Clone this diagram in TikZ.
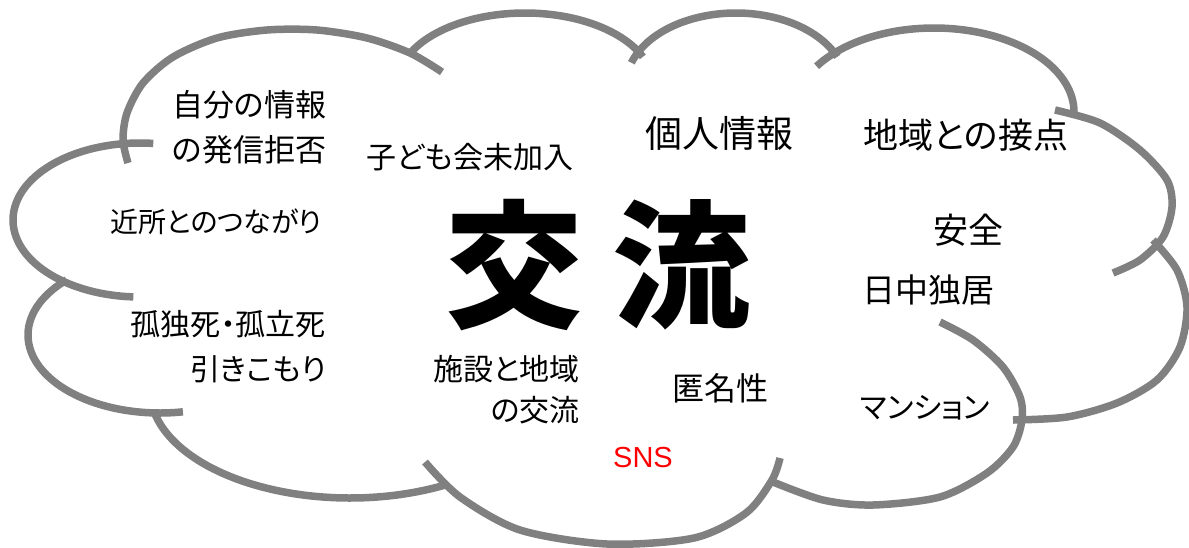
\documentclass[tikz,border=0pt]{standalone}
\usepackage{fontspec}
\setmainfont{Liberation Sans}
\newfontfamily\jpfont{Noto Sans CJK JP}[RawFeature=+palt]
\definecolor{cloudgray}{RGB}{128,128,128}
\definecolor{snsred}{RGB}{255,0,0}
\begin{document}
\begin{tikzpicture}[x=1pt,y=-1pt,
  cl/.style={draw=cloudgray,line width=7.5pt},
  jp/.style={inner sep=0pt,text=black}]
\useasboundingbox (0,0) rectangle (1189,547);
% cloud outline, lobe by lobe
\draw[cl] plot[smooth] coordinates {(128,163) (123,140) (127,113) (143,83) (173,57) (217,38) (267,30) (317,30) (367,38) (410,53) (442,72)};
\draw[cl] plot[domain=207:337,samples=60,smooth] ({525+128*cos(\x)},{85+72*sin(\x)});
\draw[cl] plot[domain=198:337,samples=60,smooth] ({736+110*cos(\x)},{85+72*sin(\x)});
\draw[cl] plot[domain=213:360,samples=60,smooth] ({934+140*cos(\x)},{112+84*sin(\x)});
\draw[cl] plot[smooth] coordinates {(1055,110) (1100,123) (1140,150) (1167,180) (1172,207) (1163,237) (1140,260) (1113,273)};
\draw[cl] plot[smooth] coordinates {(1153,240) (1177,270) (1187,307) (1180,347) (1157,380) (1117,403) (1067,417) (1013,420)};
\draw[cl] plot[smooth] coordinates {(940,322) (973,340) (1003,367) (1020,397) (1022,420) (1013,447) (987,473) (940,497) (873,505) (823,500) (773,482)};
\draw[cl] plot[smooth] coordinates {(780,458) (772,480) (746,513) (694,538) (607,544) (520,530) (460,497) (425,462)};
\draw[cl] plot[domain=62:167,samples=60,smooth] ({350+200*cos(\x)},{390+108*sin(\x)});
\draw[cl] plot[domain=80:225,samples=60,smooth] ({160+132*cos(\x)},{335+78*sin(\x)});
\draw[cl] plot[domain=93:276,samples=80,smooth] ({140+127*cos(\x)},{220+77*sin(\x)});
% texts
\node[jp,anchor=west,align=left,font=\jpfont\fontsize{31}{45}\selectfont] (info) at (172,127) {自分の情報\\の発信拒否};
\node[jp,font=\jpfont\fontsize{30}{30}\selectfont] (kodomo) at (470,157) {子ども会未加入};
\node[jp,font=\jpfont\fontsize{28}{28}\selectfont] (kinjo) at (216,222) {近所とのつながり};
\node[jp,font=\jpfont\fontsize{37}{37}\selectfont] (kojin) at (719,133) {個人情報};
\node[jp,font=\jpfont\fontsize{35}{35}\selectfont] (chiiki) at (966,135) {地域との接点};
\node[jp,font=\jpfont\bfseries\fontsize{138}{138}\selectfont] (koryu) at (598,265) {交\hspace{30pt}流};
\node[jp,font=\jpfont\fontsize{35}{35}\selectfont] (anzen) at (968,230) {安全};
\node[jp,font=\jpfont\fontsize{33}{33}\selectfont] (nicchu) at (928,290) {日中独居};
\node[jp,anchor=east,align=right,font=\jpfont\fontsize{30}{45}\selectfont] (kodoku) at (326,347) {孤独死・孤立死\\引きこもり};
\node[jp,anchor=east,align=right,font=\jpfont\fontsize{30}{41}\selectfont] (shisetsu) at (580,390) {施設と地域\\の交流};
\node[jp,font=\jpfont\fontsize{32}{32}\selectfont] (tokumei) at (720,388) {匿名性};
\node[jp,font=\jpfont\fontsize{30}{30}\selectfont] (mansion) at (925,408) {マンション};
\node[inner sep=0pt,text=snsred,font=\fontsize{29}{29}\selectfont] (sns) at (643,458) {SNS};
\end{tikzpicture}
\end{document}
